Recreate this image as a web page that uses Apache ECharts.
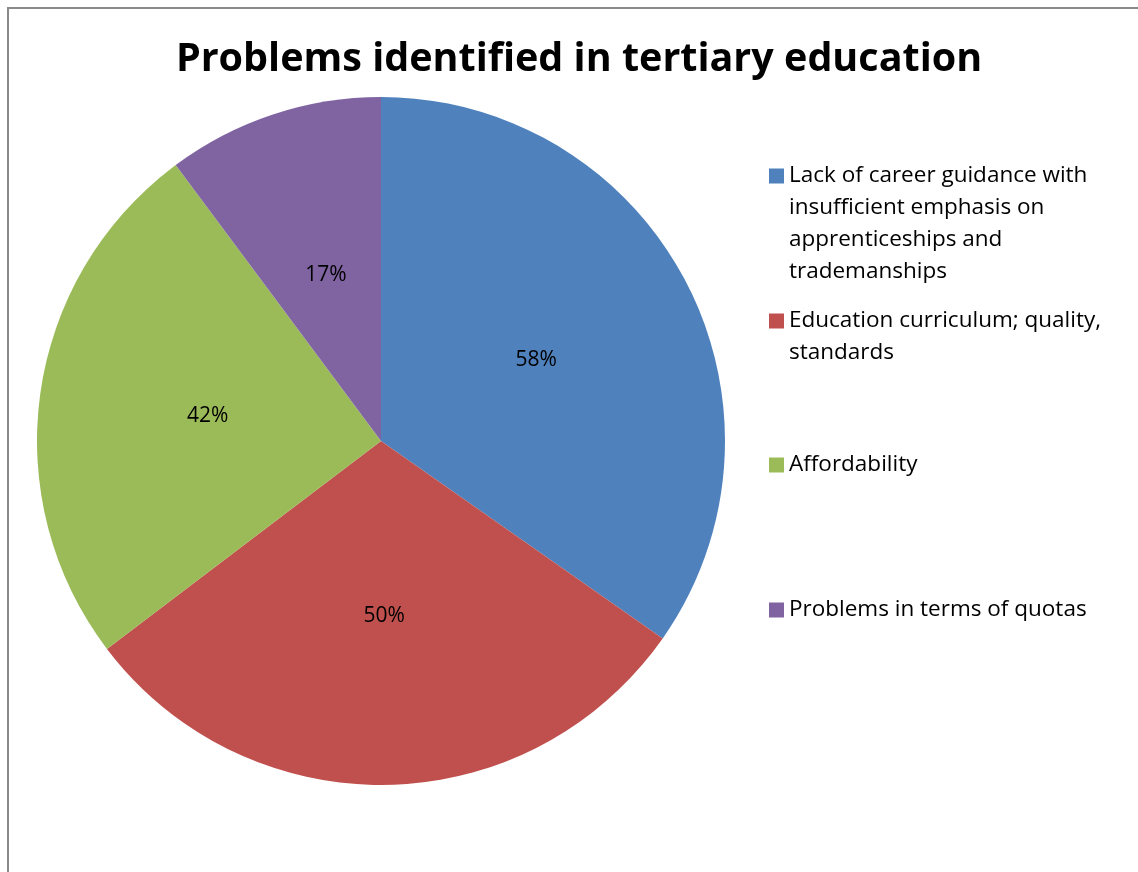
<!DOCTYPE html>
<html>
<head>
<meta charset="utf-8">
<script src="https://cdn.jsdelivr.net/npm/echarts@6/dist/echarts.min.js"></script>
<style>
html,body{margin:0;padding:0;background:#fff;}
#frame{position:absolute;left:7px;top:7px;width:1300px;height:1000px;border-left:2px solid #8a8a8a;border-top:2px solid #8a8a8a;}
#chart{position:absolute;left:0;top:0;width:1138px;height:872px;}
</style>
</head>
<body>
<div id="frame"></div>
<div id="chart"></div>
<script>
const titleText = 'Problems identified in tertiary education';
const categories = [
  'Lack of career guidance with insufficient emphasis on apprenticeships and trademanships',
  'Education curriculum; quality, standards',
  'Affordability',
  'Problems in terms of quotas'
];
const values = [58, 50, 42, 17];
const colors = ['#4F81BD', '#C0504D', '#9BBB59', '#8064A2'];

const FONT = '"Open Sans"';
const lineH = 32;
const legendLines = [4, 2, 1, 1];
const firstLineCenters = [176, 321, 465, 610];

const chart = echarts.init(document.getElementById('chart'), null, {renderer: 'canvas'});
const legends = categories.map((name, i) => {
  const h = legendLines[i] * lineH;
  // square aligned with the first text line
  const icon = 'path://M0,8.5H15V23.5H0Z M0,0H0.01V0.01H0Z M0,' + h + 'H0.01V' + (h + 0.01) + 'H0Z';
  return {
    data: [name],
    orient: 'vertical',
    left: 769,
    top: firstLineCenters[i] - lineH / 2,
    padding: 0,
    icon: icon,
    itemWidth: 15,
    itemHeight: h,
    itemGap: 0,
    selectedMode: false,
    textStyle: {
      fontFamily: FONT,
      fontSize: 22.5,
      color: '#000',
      lineHeight: lineH,
      width: 345,
      overflow: 'break'
    }
  };
});

chart.setOption({
  animation: false,
  color: colors,
  title: {
    text: titleText,
    left: 574,
    textAlign: 'center',
    top: 35,
    textStyle: {fontFamily: FONT, fontWeight: 'bold', fontSize: 39.5, color: '#000'}
  },
  legend: legends,
  series: [{
    type: 'pie',
    center: [381, 441],
    radius: 344,
    startAngle: 90,
    clockwise: true,
    data: categories.map((n, i) => ({name: n, value: values[i]})),
    label: {
      position: 'inside',
      formatter: '{c}%',
      fontFamily: FONT,
      fontSize: 21,
      color: '#000'
    },
    labelLine: {show: false},
    itemStyle: {borderWidth: 0},
    emphasis: {disabled: true}
  }]
});
</script>
</body>
</html>
